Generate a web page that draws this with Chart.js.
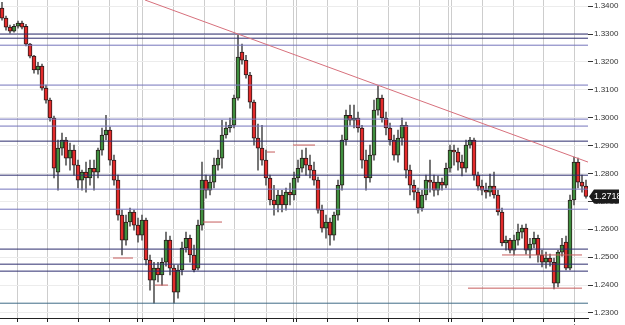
<!DOCTYPE html>
<html>
<head>
<meta charset="utf-8">
<script src="https://cdn.jsdelivr.net/npm/chart.js@4.4.1/dist/chart.umd.min.js"></script>
<style>
html, body { margin: 0; padding: 0; background: #fff; overflow: hidden; }
#wrap { width: 625px; height: 325px; overflow: hidden; }
</style>
</head>
<body>
<div id="wrap"><canvas id="myChart" width="625" height="340"></canvas></div>
<script>
// velas (una por posicion), precios
var opens = [
1.3393,1.3357,1.3325,1.3310,1.3328,1.3339,1.3328,1.3264,1.3221,1.3171,
1.3185,1.3106,1.3063,1.2999,1.2805,1.2891,1.2920,1.2855,1.2884,1.2830,
1.2776,1.2805,1.2784,1.2819,1.2805,1.2884,1.2938,1.2956,1.2848,1.2776,
1.2651,1.2561,1.2626,1.2662,1.2615,1.2579,1.2633,1.2490,1.2418,1.2461,
1.2436,1.2482,1.2561,1.2461,1.2375,1.2454,1.2533,1.2568,1.2508,1.2461,
1.2615,1.2776,1.2740,1.2769,1.2830,1.2855,1.2938,1.2963,1.2973,1.3070,
1.3235,1.3206,1.3153,1.3056,1.2927,1.2891,1.2848,1.2784,1.2705,1.2687,
1.2723,1.2687,1.2733,1.2723,1.2784,1.2819,1.2855,1.2830,1.2812,1.2776,
1.2669,1.2604,1.2626,1.2579,1.2651,1.2758,1.2920,1.3009,1.2991,1.2999,
1.2963,1.2848,1.2784,1.2866,1.3027,1.3070,1.2999,1.2963,1.2920,1.2866,
1.2927,1.2973,1.2812,1.2758,1.2733,1.2676,1.2723,1.2776,1.2769,1.2740,
1.2769,1.2758,1.2819,1.2884,1.2877,1.2841,1.2819,1.2902,1.2920,1.2794,
1.2755,1.2740,1.2733,1.2755,1.2723,1.2662,1.2551,1.2561,1.2525,1.2561,
1.2590,1.2604,1.2525,1.2547,1.2568,1.2508,1.2482,1.2497,1.2482,1.2407,
1.2518,1.2554,1.2461,1.2705,1.2841,1.2769,1.2755
];
var highs = [
1.3414,1.3364,1.3332,1.3335,1.3346,1.3346,1.3335,1.3267,1.3224,1.3199,
1.3192,1.3117,1.3070,1.3006,1.2920,1.2945,1.2930,1.2909,1.2902,1.2848,
1.2812,1.2841,1.2848,1.2848,1.2891,1.2963,1.3009,1.2966,1.2866,1.2794,
1.2669,1.2651,1.2676,1.2669,1.2640,1.2651,1.2640,1.2508,1.2482,1.2482,
1.2497,1.2590,1.2576,1.2472,1.2472,1.2554,1.2590,1.2579,1.2543,1.2633,
1.2841,1.2794,1.2791,1.2855,1.2884,1.2991,1.2984,1.2999,1.3081,1.3296,
1.3264,1.3224,1.3163,1.3063,1.2977,1.2973,1.2884,1.2794,1.2758,1.2740,
1.2740,1.2748,1.2766,1.2805,1.2848,1.2884,1.2891,1.2866,1.2841,1.2787,
1.2687,1.2651,1.2640,1.2662,1.2776,1.2938,1.3027,1.3045,1.3045,1.3020,
1.2973,1.2884,1.2902,1.3063,1.3113,1.3081,1.3020,1.2981,1.2938,1.2956,
1.2999,1.2984,1.2830,1.2776,1.2748,1.2740,1.2794,1.2848,1.2794,1.2791,
1.2784,1.2837,1.2902,1.2902,1.2891,1.2866,1.2920,1.2930,1.2927,1.2805,
1.2776,1.2766,1.2798,1.2805,1.2740,1.2676,1.2576,1.2568,1.2579,1.2619,
1.2615,1.2619,1.2568,1.2590,1.2579,1.2525,1.2518,1.2511,1.2497,1.2525,
1.2568,1.2576,1.2723,1.2859,1.2855,1.2794,1.2776
];
var lows = [
1.3350,1.3314,1.3303,1.3307,1.3321,1.3318,1.3257,1.3214,1.3160,1.3156,
1.3099,1.3052,1.2988,1.2784,1.2740,1.2866,1.2830,1.2812,1.2794,1.2748,
1.2740,1.2733,1.2758,1.2740,1.2784,1.2866,1.2920,1.2830,1.2758,1.2633,
1.2508,1.2543,1.2611,1.2597,1.2554,1.2561,1.2472,1.2382,1.2335,1.2411,
1.2400,1.2468,1.2436,1.2335,1.2353,1.2436,1.2518,1.2482,1.2447,1.2454,
1.2597,1.2712,1.2723,1.2748,1.2812,1.2819,1.2927,1.2948,1.2963,1.3063,
1.3192,1.3142,1.3034,1.2902,1.2812,1.2830,1.2758,1.2687,1.2651,1.2662,
1.2662,1.2669,1.2687,1.2705,1.2769,1.2805,1.2794,1.2784,1.2758,1.2658,
1.2590,1.2568,1.2543,1.2561,1.2633,1.2740,1.2902,1.2973,1.2963,1.2948,
1.2819,1.2740,1.2769,1.2848,1.3009,1.2984,1.2938,1.2902,1.2848,1.2841,
1.2902,1.2784,1.2723,1.2705,1.2658,1.2665,1.2705,1.2733,1.2719,1.2723,
1.2740,1.2748,1.2805,1.2830,1.2812,1.2791,1.2805,1.2891,1.2776,1.2740,
1.2723,1.2712,1.2719,1.2712,1.2651,1.2540,1.2525,1.2515,1.2508,1.2543,
1.2568,1.2511,1.2497,1.2533,1.2482,1.2465,1.2461,1.2468,1.2386,1.2393,
1.2504,1.2454,1.2454,1.2687,1.2748,1.2733,1.2712
];
var closes = [
1.3357,1.3325,1.3310,1.3328,1.3339,1.3325,1.3264,1.3221,1.3171,1.3185,
1.3106,1.3063,1.2999,1.2819,1.2891,1.2920,1.2855,1.2884,1.2830,1.2776,
1.2805,1.2784,1.2819,1.2805,1.2884,1.2938,1.2956,1.2848,1.2776,1.2651,
1.2561,1.2626,1.2662,1.2615,1.2579,1.2633,1.2490,1.2418,1.2461,1.2436,
1.2482,1.2561,1.2461,1.2375,1.2454,1.2533,1.2568,1.2508,1.2454,1.2615,
1.2776,1.2740,1.2769,1.2830,1.2855,1.2938,1.2963,1.2973,1.3070,1.3217,
1.3206,1.3153,1.3056,1.2927,1.2891,1.2848,1.2784,1.2705,1.2687,1.2723,
1.2687,1.2733,1.2723,1.2784,1.2819,1.2855,1.2830,1.2812,1.2776,1.2669,
1.2604,1.2626,1.2579,1.2651,1.2758,1.2920,1.3009,1.2991,1.2999,1.2963,
1.2848,1.2784,1.2866,1.3027,1.3070,1.2999,1.2963,1.2920,1.2866,1.2927,
1.2973,1.2812,1.2758,1.2733,1.2676,1.2723,1.2776,1.2769,1.2740,1.2769,
1.2758,1.2819,1.2884,1.2877,1.2841,1.2819,1.2902,1.2920,1.2794,1.2755,
1.2740,1.2733,1.2755,1.2723,1.2662,1.2551,1.2561,1.2525,1.2561,1.2590,
1.2604,1.2525,1.2547,1.2568,1.2508,1.2482,1.2497,1.2482,1.2407,1.2518,
1.2543,1.2461,1.2705,1.2841,1.2769,1.2755,1.2718
];

// eje de precios y separadores de semana
var priceTicks = [1.23, 1.24, 1.25, 1.26, 1.27, 1.28, 1.29, 1.30, 1.31, 1.32, 1.33, 1.34];
var weekTicks = [3.75, 11.5, 19, 26.75, 33.75, 35, 42.75, 50.5, 58, 66, 72.75, 73.5,
                 81.25, 88.75, 96.5, 104.25, 111.5, 112.25, 120, 127.75, 135.25, 143];
var weekLabels = { 143: '11/14' };

// niveles horizontales
var strongLevels = [1.3300, 1.3285, 1.2916, 1.2794, 1.2529, 1.2475, 1.2450];
var softLevels = [1.3260, 1.3117, 1.2995, 1.2970, 1.2744, 1.2672];
var baseLevels = [1.2335];

// linea de tendencia y marcas cortas
var trendX = [35.75, 146.5];
var trendY = [1.3422, 1.2841];
var markFrom = [27.75, 38.25, 50.25, 66.25, 72.75, 125, 116.5];
var markTo = [32.75, 41.5, 55, 68.25, 78.25, 145, 145];
var markPrice = [1.2497, 1.2400, 1.2626, 1.2877, 1.2902, 1.2508, 1.2389];

var lastPrice = closes[closes.length - 1];

var xMin = -0.5, xMax = opens.length - 0.5;

var wickData = lows.map(function (l, i) { return { x: i, y: [l, highs[i]] }; });
var bodyData = opens.map(function (o, i) { return { x: i, y: [o, closes[i]] }; });
var bodyColors = opens.map(function (o, i) { return closes[i] >= o ? '#3f8f3f' : '#e32b2b'; });

function levelSet(levels, color) {
    return levels.map(function (v) {
        return {
            type: 'line', data: [{ x: xMin, y: v }, { x: xMax, y: v }],
            borderColor: color, borderWidth: 1, pointRadius: 0, order: 1
        };
    });
}

var datasets = [
    { type: 'bar', data: wickData, backgroundColor: '#5a5a5a', barThickness: 1, grouped: false, order: 3 },
    { type: 'bar', data: bodyData, backgroundColor: bodyColors, borderColor: '#2a1c1c',
      borderWidth: { left: 1, right: 1, top: 1, bottom: 1 }, borderSkipped: false,
      barThickness: 4, grouped: false, order: 2 }
];
datasets = datasets.concat(levelSet(softLevels, '#7474bc'), levelSet(strongLevels, '#2c2c6e'), levelSet(baseLevels, '#3f6b86'));
markFrom.forEach(function (f, i) {
    datasets.push({ type: 'line', data: [{ x: f, y: markPrice[i] }, { x: markTo[i], y: markPrice[i] }],
        borderColor: '#c65c5c', borderWidth: 1, pointRadius: 0, order: 0 });
});
datasets.push({ type: 'line', data: [{ x: trendX[0], y: trendY[0] }, { x: trendX[1], y: trendY[1] }],
    borderColor: '#d7707c', borderWidth: 1, pointRadius: 0, order: 0 });

// etiqueta del ultimo precio
var priceTag = {
    id: 'priceTag',
    afterDraw: function (chart) {
        var c = chart.ctx, a = chart.chartArea;
        var y = Math.round(chart.scales.y.getPixelForValue(lastPrice)) + 0.5;
        var x = a.right + 1;
        c.save();
        c.fillStyle = '#1c1c1c';
        c.beginPath();
        c.moveTo(x, y);
        c.lineTo(x + 5, y - 7);
        c.lineTo(x + 30, y - 7);
        c.lineTo(x + 30, y + 7);
        c.lineTo(x + 5, y + 7);
        c.closePath();
        c.fill();
        c.fillStyle = '#fff';
        c.font = '9px "Liberation Sans", Arial, sans-serif';
        c.textBaseline = 'middle';
        c.fillText(lastPrice.toFixed(4), x + 5, y + 0.5);
        c.restore();
    }
};

Chart.defaults.font.family = '"Liberation Sans", Arial, sans-serif';
Chart.defaults.font.size = 8;
Chart.defaults.color = '#333';

var ctx = document.getElementById('myChart').getContext('2d');
var myChart = new Chart(ctx, {
    type: 'bar',
    data: { datasets: datasets },
    plugins: [priceTag],
    options: {
        responsive: false,
        animation: false,
        layout: { padding: 0 },
        plugins: { legend: { display: false }, tooltip: { enabled: false } },
        scales: {
            x: {
                type: 'linear', min: xMin, max: xMax, offset: false,
                afterBuildTicks: function (s) { s.ticks = weekTicks.map(function (v) { return { value: v }; }); },
                afterFit: function (s) { s.height = 22; s.paddingLeft = 0; s.paddingRight = 0; },
                ticks: { autoSkip: false, maxRotation: 0, padding: 1, font: { size: 9 },
                    callback: function (v) { return weekLabels[v] || ''; } },
                grid: { offset: false, color: '#cdcdcd', tickColor: '#222', tickLength: 4 },
                border: { display: true, color: '#222', width: 1 }
            },
            y: {
                position: 'right', min: 1.2282, max: 1.3422,
                afterBuildTicks: function (s) { s.ticks = priceTicks.map(function (v) { return { value: v }; }); },
                afterFit: function (s) { s.width = 37; s.paddingTop = 0; s.paddingBottom = 0; },
                ticks: { padding: 1, callback: function (v) { return v.toFixed(4); } },
                grid: { color: '#ececec', tickColor: '#333', tickLength: 5 },
                border: { display: false }
            }
        }
    }
});
</script>
</body>
</html>
